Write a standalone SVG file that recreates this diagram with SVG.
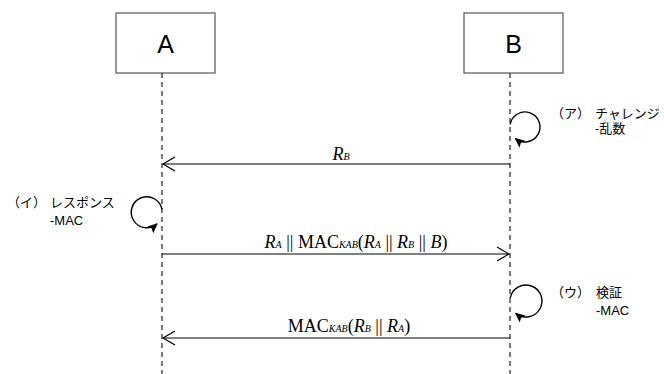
<svg xmlns="http://www.w3.org/2000/svg" width="664" height="374" viewBox="0 0 664 374">
<defs>
<style>
.box{fill:#fff;stroke:#555;stroke-width:1.2}
.life{stroke:#222;stroke-width:1.2;stroke-dasharray:5,4;fill:none}
.msg{stroke:#000;stroke-width:1.2;fill:none}
.loop{stroke:#000;stroke-width:1.4;fill:none}
.name{font-family:"Liberation Sans",Arial,sans-serif;font-size:25px;fill:#000;text-anchor:middle}
.note{font-family:"Liberation Sans","Noto Sans CJK JP",sans-serif;font-size:13px;fill:#000}
.math{font-family:"Liberation Serif","Times New Roman",serif;font-size:18px;fill:#000;text-anchor:middle}
.it{font-style:italic}
.sub{font-style:italic;font-size:10px}
</style>
<marker id="open" markerWidth="16" markerHeight="16" refX="13" refY="8" orient="auto" markerUnits="userSpaceOnUse">
<path d="M1,1 L13,8 L1,15" fill="none" stroke="#000" stroke-width="1.2"/>
</marker>
<marker id="fill" markerWidth="12" markerHeight="12" refX="9" refY="6" orient="auto" markerUnits="userSpaceOnUse">
<path d="M0,1.5 L10,6 L0,10.5 L2,6 Z" fill="#000"/>
</marker>
</defs>
<g id="A">
<rect class="box" x="116" y="13" width="99" height="60"/>
<text class="name" x="165.5" y="53">A</text>
<line class="life" x1="162" y1="73" x2="162" y2="374"/>
</g>
<g id="B">
<rect class="box" x="464" y="13" width="99" height="60"/>
<text class="name" x="513.5" y="53">B</text>
<line class="life" x1="510" y1="73" x2="510" y2="374"/>
</g>
<g id="connectors">
<line class="msg" x1="510" y1="164" x2="163" y2="164" marker-end="url(#open)"/>
<line class="msg" x1="162" y1="254" x2="509" y2="254" marker-end="url(#open)"/>
<line class="msg" x1="510" y1="338" x2="163" y2="338" marker-end="url(#open)"/>
<path class="loop" d="M510.2,124.4 A15,15 0 1 1 515.4,138.5" marker-end="url(#fill)"/>
<path class="loop" d="M162,209.4 A15.5,15.5 0 1 0 157,223.9" marker-end="url(#fill)"/>
<path class="loop" d="M510.2,298.2 A16,16 0 1 1 515.7,313.3" marker-end="url(#fill)"/>
</g>
<g id="labels">
<text class="math" x="341" y="160"><tspan class="it">R</tspan><tspan class="sub">B</tspan></text>
<text class="math" x="356" y="248"><tspan class="it">R</tspan><tspan class="sub">A</tspan> || MAC<tspan class="sub">KAB</tspan>(<tspan class="it">R</tspan><tspan class="sub">A</tspan> || <tspan class="it">R</tspan><tspan class="sub">B</tspan> || <tspan class="it">B</tspan>)</text>
<text class="math" x="349" y="332">MAC<tspan class="sub">KAB</tspan>(<tspan class="it">R</tspan><tspan class="sub">B</tspan> || <tspan class="it">R</tspan><tspan class="sub">A</tspan>)</text>
</g>
<g id="noteA">
<text class="note" x="551" y="118">（ア）</text>
<text class="note" x="595" y="118">チャレンジ</text>
<text class="note" x="595" y="133">-乱数</text>
</g>
<g id="noteB">
<text class="note" x="7" y="207">（イ）</text>
<text class="note" x="50" y="207">レスポンス</text>
<text class="note" x="50" y="225">-MAC</text>
</g>
<g id="noteC">
<text class="note" x="551" y="297">（ウ）</text>
<text class="note" x="596" y="297">検証</text>
<text class="note" x="596" y="315">-MAC</text>
</g>
</svg>
